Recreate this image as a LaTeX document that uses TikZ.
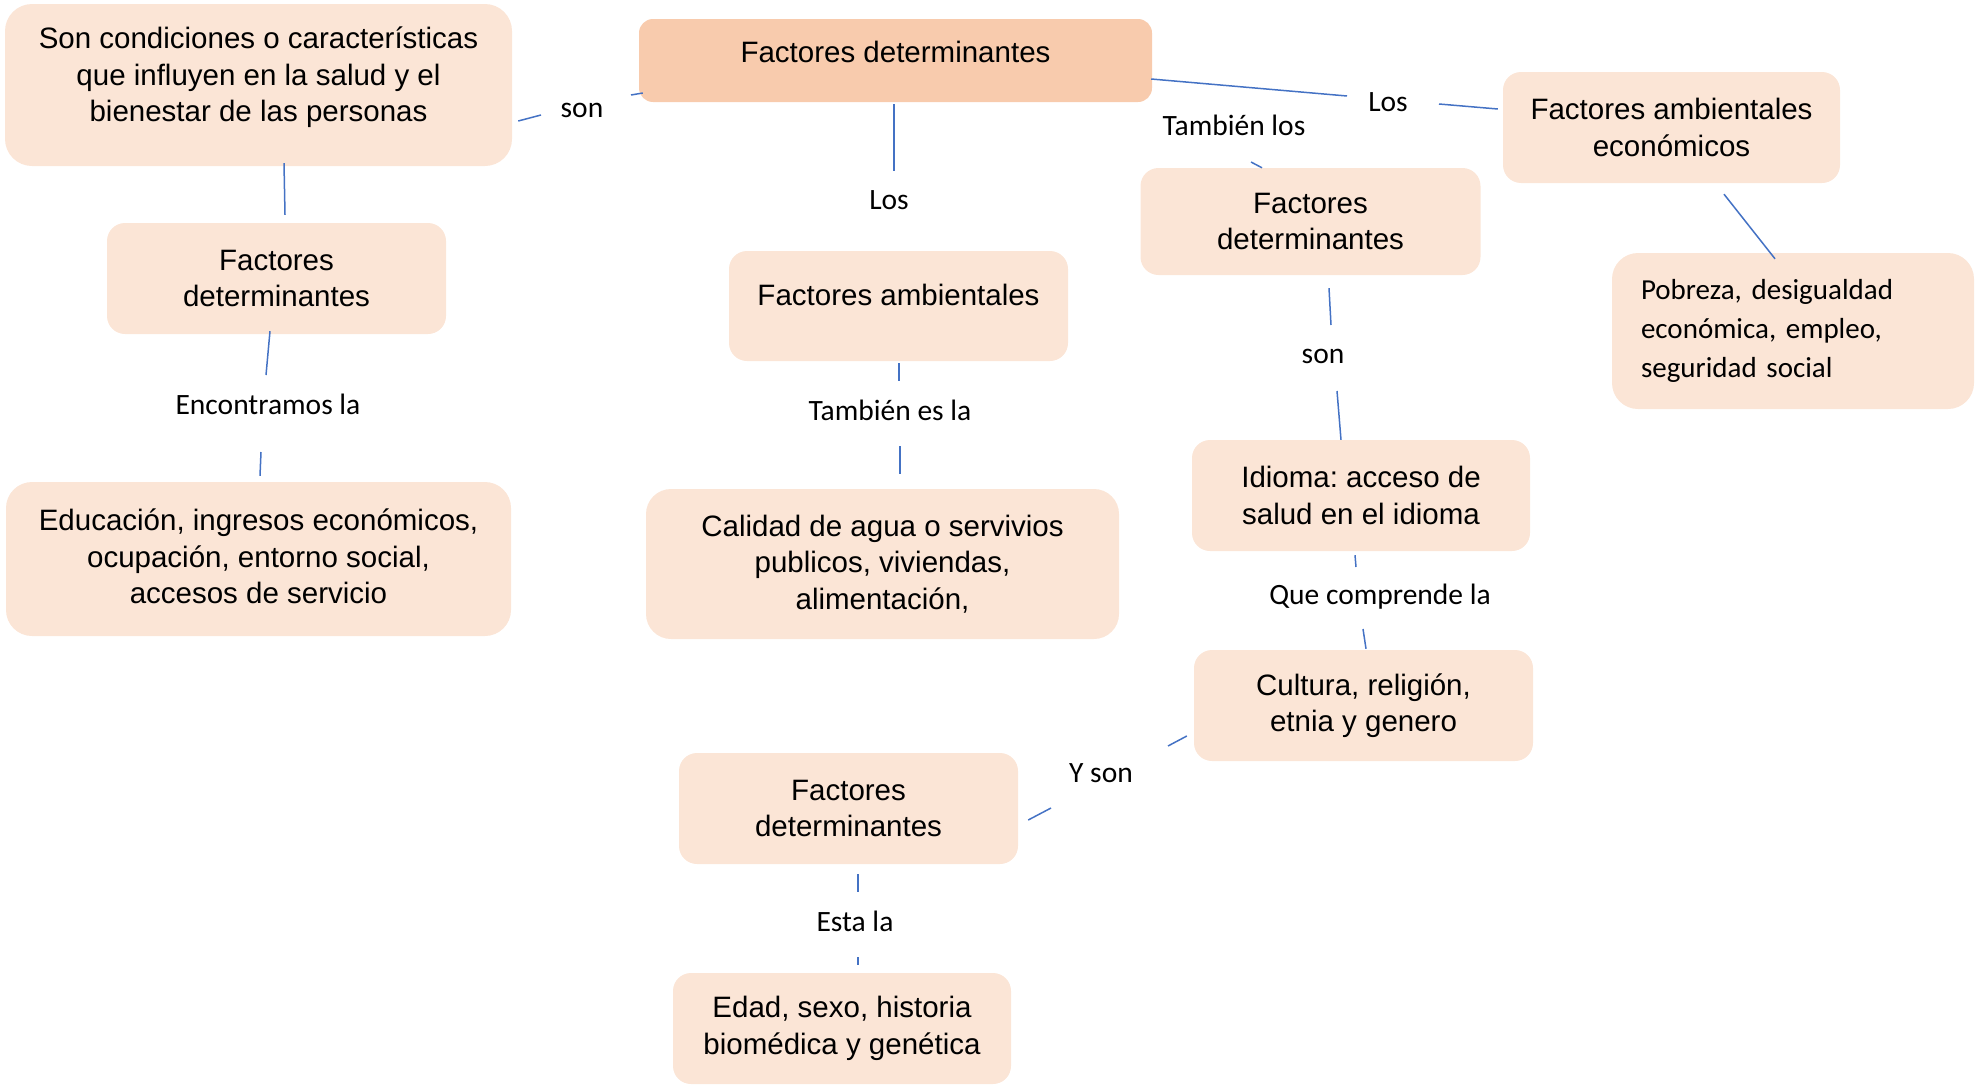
\documentclass[tikz,border=0pt]{standalone}
\usepackage{fontspec}
\setmainfont{Liberation Sans}
\newfontfamily\calibri{Carlito}
\usepackage{tikz}
\usetikzlibrary{calc}
\frenchspacing

\definecolor{boxfill}{HTML}{FBE5D6}
\definecolor{mainfill}{HTML}{F8CBAD}
\definecolor{linkblue}{HTML}{4472C4}

\tikzset{
    box/.style={fill=boxfill, rounded corners=18pt, align=center, inner sep=0pt,
        minimum width=339pt, minimum height=111pt, font=\fontsize{29.5}{36.5}\selectfont},
    lbl/.style={inner sep=0pt, font=\calibri\fontsize{29.5}{34}\selectfont},
    link/.style={draw=linkblue, line width=1.5pt},
}

\begin{document}
\begin{tikzpicture}[x=1pt, y=-1pt]
    \useasboundingbox (0,0) rectangle (1975,1087);

    \node[box, fill=mainfill, rounded corners=14pt, minimum width=513pt, minimum height=83pt, text depth=17pt] (main) at (895.5,60.5) {Factores determinantes};

    \node[box, rounded corners=27pt, minimum width=507pt, minimum height=162pt, text depth=21pt] (cond) at (258.5,85) {Son condiciones o características\\que influyen en la salud y el\\bienestar de las personas};
    \node[box] (detA) at (276.5,278.5) {Factores\\determinantes};
    \node[box, rounded corners=26pt, minimum width=505pt, minimum height=154pt, text depth=5pt] (educ) at (258.5,559) {Educación, ingresos económicos,\\ocupación, entorno social,\\accesos de servicio};

    \node[box, minimum height=110pt, text depth=22pt] (amb) at (898.5,306) {Factores ambientales};
    \node[box, rounded corners=25pt, minimum width=473pt, minimum height=150pt] (agua) at (882.5,564) {Calidad de agua o servivios\\publicos, viviendas,\\alimentación,};

    \node[box, minimum width=340pt, minimum height=107pt] (detB) at (1310.5,221.5) {Factores\\determinantes};
    \node[box, minimum width=337pt] (econ) at (1671.5,127.5) {Factores ambientales\\económicos};
    \node[box, rounded corners=26pt, minimum width=362pt, minimum height=156pt, text width=304pt, align=left,
        font=\calibri\fontsize{29}{39}\selectfont] (pobre) at (1793,331) {Pobreza, desigualdad\\económica, empleo,\\seguridad social};
    \node[box, minimum width=338pt] (idio) at (1361,495.5) {Idioma: acceso de\\salud en el idioma};
    \node[box] (cult) at (1363.5,705.5) {Cultura, religión,\\etnia y genero};

    \node[box] (detC) at (848.5,808.5) {Factores\\determinantes};
    \node[box, minimum width=338pt] (edad) at (842,1028.5) {Edad, sexo, historia\\biomédica y genética};

    % labels
    \node[lbl] (son1) at (582,110) {son};
    \node[lbl] (los1) at (889,200) {Los};
    \node[lbl] (los2) at (1388,102) {Los};
    \node[lbl] (tamb1) at (1234,125) {También los};
    \node[lbl] (enc) at (268,404) {Encontramos la};
    \node[lbl] (tamb2) at (890,410) {También es la};
    \node[lbl] (son2) at (1323,356) {son};
    \node[lbl] (que) at (1380,597) {Que comprende la};
    \node[lbl] (yson) at (1101,773) {Y son};
    \node[lbl] (esta) at (855,921) {Esta la};

    % connectors
    \draw[link] ($(cond.east) + (6,36)$) -- ($(son1) + (-41,5)$);
    \draw[link] ($(son1) + (49,-15)$) -- ($(main.west) + (4,32.5)$);
    \draw[link] ($(cond.south) + (25.5,-3)$) -- ($(detA.north) + (8.5,-8)$);
    \draw[link] ($(detA.south) + (-6.5,-3)$) -- ($(enc) + (-2,-29)$);
    \draw[link] ($(enc) + (-7,48)$) -- ($(educ.north) + (1.5,-6)$);

    \draw[link] ($(main.south) + (-1.5,2)$) -- ($(los1) + (5,-29)$);
    \draw[link] ($(amb.south) + (0.5,2)$) -- ($(tamb2) + (9,-29)$);
    \draw[link] ($(tamb2) + (10,36)$) -- ($(agua.north) + (17.5,-15)$);

    \draw[link] ($(main.east) + (-1,18.5)$) -- ($(los2) + (-41,-6)$);
    \draw[link] ($(los2) + (51,2)$) -- ($(econ.west) + (-5,-18.5)$);
    \draw[link] ($(econ.south) + (52.5,11)$) -- ($(pobre.north) + (-18,6)$);
    \draw[link] ($(tamb1) + (17,37)$) -- ($(detB.north) + (-48.5,0)$);
    \draw[link] ($(detB.south) + (18.5,13)$) -- ($(son2) + (8,-31)$);
    \draw[link] ($(son2) + (14,35)$) -- ($(idio.north) + (-20,0)$);
    \draw[link] ($(idio.south) + (-6,4)$) -- ($(que) + (-24,-30)$);
    \draw[link] ($(que) + (-17,32)$) -- ($(cult.north) + (2.5,-1)$);

    \draw[link] ($(cult.west) + (-7,30.5)$) -- ($(yson) + (67,-27)$);
    \draw[link] ($(yson) + (-50,35)$) -- ($(detC.east) + (10,11.5)$);
    \draw[link] ($(detC.south) + (9.5,10)$) -- ($(esta) + (3,-29)$);
    \draw[link] ($(esta) + (3,36)$) -- ($(edad.north) + (16,-8)$);
\end{tikzpicture}
\end{document}
